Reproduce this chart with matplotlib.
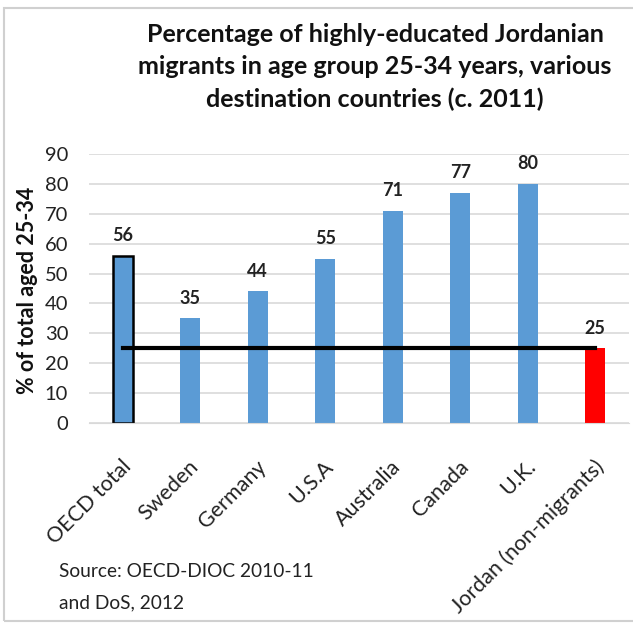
import matplotlib
matplotlib.use('Agg')
import matplotlib.pyplot as plt
import matplotlib.transforms as mtransforms
from matplotlib.patches import Rectangle

# Data
countries = ['OECD total', 'Sweden', 'Germany', 'U.S.A', 'Australia',
             'Canada', 'U.K.', 'Jordan (non-migrants)']
values = [56, 35, 44, 55, 71, 77, 80, 25]
jordan_level = 25

plt.rcParams['font.family'] = ['Lato', 'DejaVu Sans']

blue = '#5B9BD5'
colors = [blue] * 7 + ['#FF0000']

fig = plt.figure(figsize=(6.33, 6.27), dpi=100)
ax = fig.add_axes([0.1406, 0.3254, 0.8531, 0.429])

x = list(range(len(countries)))
bars = ax.bar(x, values, width=0.3, color=colors, zorder=2)
# OECD total bar has a black outline
bars[0].set_edgecolor('black')
bars[0].set_linewidth(1.8)

# reference line at Jordan level
ax.plot([x[0], x[-1]], [jordan_level, jordan_level], color='black', lw=3, zorder=3)

for xi, v in zip(x, values):
    ax.text(xi, v + 6.7, str(v), ha='center', va='center', fontsize=13,
            fontweight='bold', color='#222222')

ax.set_xlim(-0.5, 7.5)
ax.set_ylim(0, 90)
ax.set_yticks(range(0, 91, 10))
ax.yaxis.grid(True, color='#D9D9D9', lw=1.2, zorder=0)
ax.set_axisbelow(True)
for s in ['top', 'right', 'left']:
    ax.spines[s].set_visible(False)
ax.spines['bottom'].set_color('#D9D9D9')
ax.tick_params(axis='y', length=0, labelsize=14.5, pad=15, colors='#222222')
ax.tick_params(axis='x', length=0, labelsize=15.5, pad=24, colors='#222222')
ax.set_xticks(x)
ax.set_xticklabels(countries, rotation=45, ha='right', va='top', rotation_mode='anchor')
shift = mtransforms.ScaledTranslation(-2 / 100, 0, fig.dpi_scale_trans)
for lbl in ax.get_xticklabels():
    lbl.set_transform(lbl.get_transform() + shift)

fig.text(0.0427, 0.5375, '% of total aged 25-34', rotation=90, ha='center', va='center',
         fontsize=15.5, fontweight='bold', color='#111111')

fig.text(0.5924, 0.964, 'Percentage of highly-educated Jordanian\n'
         'migrants in age group 25-34 years, various\n'
         'destination countries (c. 2011)',
         ha='center', va='top', fontsize=18, fontweight='bold',
         linespacing=1.5, color='#111111')

fig.text(0.093, 0.063, 'Source: OECD-DIOC 2010-11\nand DoS, 2012',
         ha='left', va='center', fontsize=13.8, linespacing=2.0, color='#222222')

# light frame around the chart
fig.patches.append(Rectangle((0.006, 0.009), 1.2, 0.978, transform=fig.transFigure,
                             fill=False, edgecolor='#D0D0D0', lw=1.5))

fig.savefig('out.png', dpi=100)
